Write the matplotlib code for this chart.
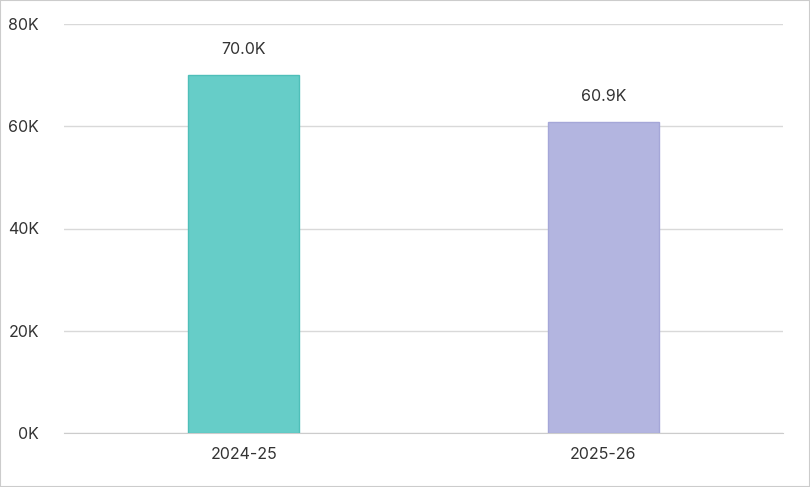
import matplotlib.pyplot as plt
from matplotlib.patches import Rectangle

plt.rcParams["font.family"] = ["Inter", "DejaVu Sans"]

seasons = ["2024-25", "2025-26"]
values = [70000, 60900]
labels = ["70.0K", "60.9K"]
colors = ["#66cdc8", "#b3b5e0"]
edges = ["#4fbfb9", "#a5a7d8"]

fig = plt.figure(figsize=(8.1, 4.87), dpi=100)
ax = fig.add_axes([64 / 810, 1 - 433 / 487, 719 / 810, 409 / 487])

x = range(len(seasons))
ax.bar(x, values, width=0.31, color=colors, edgecolor=edges, linewidth=1, zorder=3)
for i, v in enumerate(values):
    ax.text(i, v + 3500, labels[i], ha="center", va="bottom", fontsize=11.5, color="#333333")

ax.set_xlim(-0.5, 1.5)
ax.set_ylim(0, 80000)
ax.set_yticks([0, 20000, 40000, 60000, 80000])
ax.set_yticklabels(["0K", "20K", "40K", "60K", "80K"])
ax.set_xticks(list(x))
ax.set_xticklabels(seasons)
ax.grid(axis="y", color="#d9d9d9", linewidth=1, zorder=0)
for s in ["top", "right", "left"]:
    ax.spines[s].set_visible(False)
ax.spines["bottom"].set_color("#cccccc")
ax.tick_params(length=0, labelsize=11.5, labelcolor="#333333")
ax.tick_params(axis="y", pad=18)
ax.tick_params(axis="x", pad=10)

fig.patches.append(Rectangle((0, 0), 1, 1, transform=fig.transFigure, fill=False,
                             edgecolor="#cccccc", linewidth=1.5))
fig.savefig("out.png", dpi=100)
